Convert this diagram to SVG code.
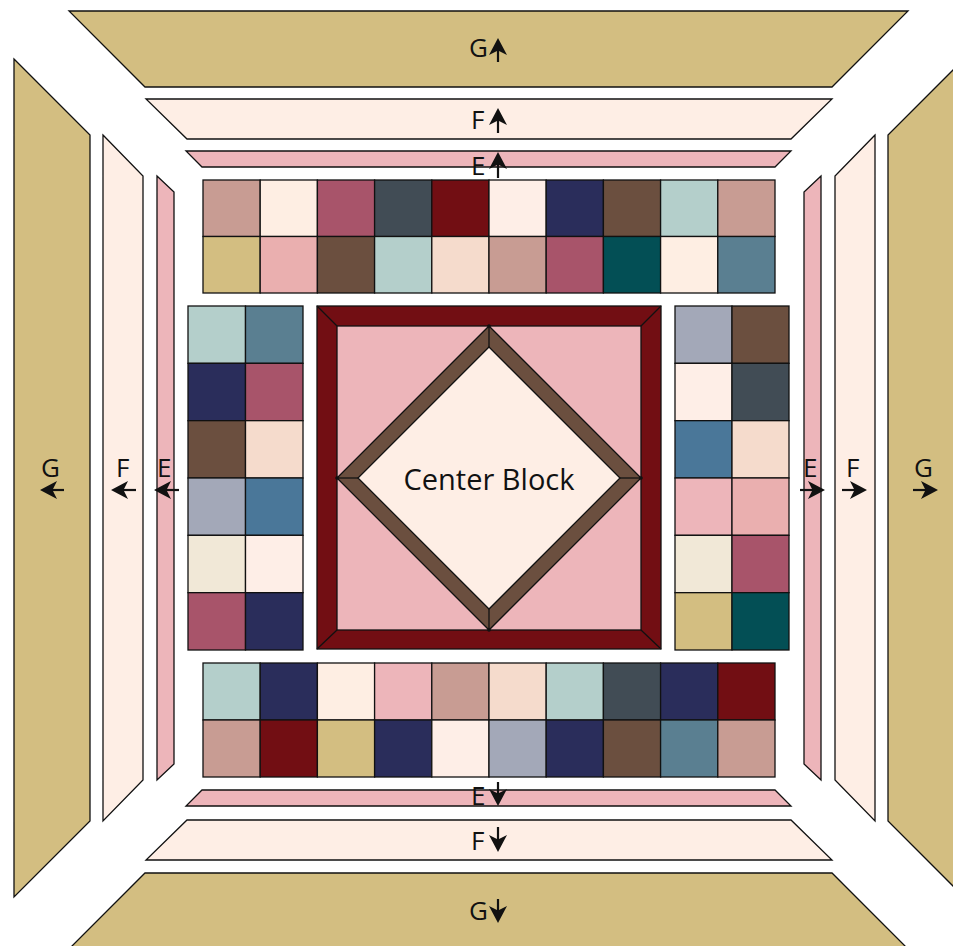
<svg xmlns="http://www.w3.org/2000/svg" width="953" height="946" viewBox="0 0 953 946">
<style>
.o{stroke:#111;stroke-width:1.3;stroke-linejoin:miter}
.g{fill:#D3BE81}.f{fill:#FEEEE5}.e{fill:#EDB5BA}
.lbl{font-family:"Open Sans","Noto Sans",sans-serif;font-size:26px;fill:#111}
.ln{stroke:#111;stroke-width:2.2;fill:none}
.hd{fill:#111;stroke:none}
.c1{fill:#C89C93}.c2{fill:#FEEEE3}.c3{fill:#A8546A}.c4{fill:#414C55}.c5{fill:#720E13}
.c6{fill:#FEEEE7}.c7{fill:#2A2D5B}.c8{fill:#6B4F3F}.c9{fill:#B4CFCB}.c10{fill:#D3BE81}
.c11{fill:#EAAFAF}.c12{fill:#F5DBCC}.c13{fill:#034F55}.c14{fill:#5A7F91}.c15{fill:#A3A8B8}
.c16{fill:#4A7799}.c17{fill:#F1E8D7}.c18{fill:#EDB5BA}
</style>
<defs>
<path id="hup" class="hd" d="M0,0 L-9,17 L0,12.5 L9,17 Z"/>
<path id="hdn" class="hd" d="M0,0 L-9,-17 L0,-12.5 L9,-17 Z"/>
<path id="hlf" class="hd" d="M0,0 L17,-9 L12.5,0 L17,9 Z"/>
<path id="hrt" class="hd" d="M0,0 L-17,-9 L-12.5,0 L-17,9 Z"/>
</defs>
<rect width="953" height="946" fill="#fff"/>

<g id="border-G-top"><polygon class="o g" points="69,11 908,11 832,87 145,87"/></g>
<g id="border-F-top"><polygon class="o f" points="146,99 832,99 791,139 187,139"/></g>
<g id="border-E-top"><polygon class="o e" points="186,151 791,151 775,167 202,167"/></g>

<g id="border-G-bottom"><polygon class="o g" points="145,873 832,873 908,949 69,949"/></g>
<g id="border-F-bottom"><polygon class="o f" points="187,820 791,820 832,860 146,860"/></g>
<g id="border-E-bottom"><polygon class="o e" points="202,790 775,790 791,806 186,806"/></g>

<g id="border-G-left"><polygon class="o g" points="14,59 90,135 90,821 14,897"/></g>
<g id="border-F-left"><polygon class="o f" points="103,135 143,176 143,780 103,821"/></g>
<g id="border-E-left"><polygon class="o e" points="157,176 174,192 174,764 157,780"/></g>

<g id="border-G-right"><polygon class="o g" points="964,59 888,135 888,821 964,897"/></g>
<g id="border-F-right"><polygon class="o f" points="875,135 835,176 835,780 875,821"/></g>
<g id="border-E-right"><polygon class="o e" points="821,176 804,192 804,764 821,780"/></g>

<g id="grid-top" class="o">
<rect class="c1" x="203" y="180" width="57.2" height="56.5"/>
<rect class="c2" x="260.2" y="180" width="57.2" height="56.5"/>
<rect class="c3" x="317.4" y="180" width="57.2" height="56.5"/>
<rect class="c4" x="374.6" y="180" width="57.2" height="56.5"/>
<rect class="c5" x="431.8" y="180" width="57.2" height="56.5"/>
<rect class="c6" x="489" y="180" width="57.2" height="56.5"/>
<rect class="c7" x="546.2" y="180" width="57.2" height="56.5"/>
<rect class="c8" x="603.4" y="180" width="57.2" height="56.5"/>
<rect class="c9" x="660.6" y="180" width="57.2" height="56.5"/>
<rect class="c1" x="717.8" y="180" width="57.2" height="56.5"/>
<rect class="c10" x="203" y="236.5" width="57.2" height="56.5"/>
<rect class="c11" x="260.2" y="236.5" width="57.2" height="56.5"/>
<rect class="c8" x="317.4" y="236.5" width="57.2" height="56.5"/>
<rect class="c9" x="374.6" y="236.5" width="57.2" height="56.5"/>
<rect class="c12" x="431.8" y="236.5" width="57.2" height="56.5"/>
<rect class="c1" x="489" y="236.5" width="57.2" height="56.5"/>
<rect class="c3" x="546.2" y="236.5" width="57.2" height="56.5"/>
<rect class="c13" x="603.4" y="236.5" width="57.2" height="56.5"/>
<rect class="c2" x="660.6" y="236.5" width="57.2" height="56.5"/>
<rect class="c14" x="717.8" y="236.5" width="57.2" height="56.5"/>
</g>

<g id="grid-bottom" class="o">
<rect class="c9" x="203" y="663" width="57.2" height="57"/>
<rect class="c7" x="260.2" y="663" width="57.2" height="57"/>
<rect class="c2" x="317.4" y="663" width="57.2" height="57"/>
<rect class="c18" x="374.6" y="663" width="57.2" height="57"/>
<rect class="c1" x="431.8" y="663" width="57.2" height="57"/>
<rect class="c12" x="489" y="663" width="57.2" height="57"/>
<rect class="c9" x="546.2" y="663" width="57.2" height="57"/>
<rect class="c4" x="603.4" y="663" width="57.2" height="57"/>
<rect class="c7" x="660.6" y="663" width="57.2" height="57"/>
<rect class="c5" x="717.8" y="663" width="57.2" height="57"/>
<rect class="c1" x="203" y="720" width="57.2" height="57"/>
<rect class="c5" x="260.2" y="720" width="57.2" height="57"/>
<rect class="c10" x="317.4" y="720" width="57.2" height="57"/>
<rect class="c7" x="374.6" y="720" width="57.2" height="57"/>
<rect class="c6" x="431.8" y="720" width="57.2" height="57"/>
<rect class="c15" x="489" y="720" width="57.2" height="57"/>
<rect class="c7" x="546.2" y="720" width="57.2" height="57"/>
<rect class="c8" x="603.4" y="720" width="57.2" height="57"/>
<rect class="c14" x="660.6" y="720" width="57.2" height="57"/>
<rect class="c1" x="717.8" y="720" width="57.2" height="57"/>
</g>

<g id="grid-left" class="o">
<rect class="c9" x="188" y="306" width="57.5" height="57.33"/>
<rect class="c14" x="245.5" y="306" width="57.5" height="57.33"/>
<rect class="c7" x="188" y="363.33" width="57.5" height="57.33"/>
<rect class="c3" x="245.5" y="363.33" width="57.5" height="57.33"/>
<rect class="c8" x="188" y="420.67" width="57.5" height="57.33"/>
<rect class="c12" x="245.5" y="420.67" width="57.5" height="57.33"/>
<rect class="c15" x="188" y="478" width="57.5" height="57.33"/>
<rect class="c16" x="245.5" y="478" width="57.5" height="57.33"/>
<rect class="c17" x="188" y="535.33" width="57.5" height="57.33"/>
<rect class="c6" x="245.5" y="535.33" width="57.5" height="57.33"/>
<rect class="c3" x="188" y="592.67" width="57.5" height="57.33"/>
<rect class="c7" x="245.5" y="592.67" width="57.5" height="57.33"/>
</g>

<g id="grid-right" class="o">
<rect class="c15" x="675" y="306" width="57" height="57.33"/>
<rect class="c8" x="732" y="306" width="57" height="57.33"/>
<rect class="c6" x="675" y="363.33" width="57" height="57.33"/>
<rect class="c4" x="732" y="363.33" width="57" height="57.33"/>
<rect class="c16" x="675" y="420.67" width="57" height="57.33"/>
<rect class="c12" x="732" y="420.67" width="57" height="57.33"/>
<rect class="c18" x="675" y="478" width="57" height="57.33"/>
<rect class="c11" x="732" y="478" width="57" height="57.33"/>
<rect class="c17" x="675" y="535.33" width="57" height="57.33"/>
<rect class="c3" x="732" y="535.33" width="57" height="57.33"/>
<rect class="c10" x="675" y="592.67" width="57" height="57.33"/>
<rect class="c13" x="732" y="592.67" width="57" height="57.33"/>
</g>

<g id="center-block">
<rect class="o" x="317" y="306" width="344" height="343" fill="#720E13"/>
<rect class="o" x="337" y="326" width="304" height="304" fill="#EDB5BA"/>
<g class="o" fill="none">
<line x1="317" y1="306" x2="337" y2="326"/>
<line x1="661" y1="306" x2="641" y2="326"/>
<line x1="317" y1="649" x2="337" y2="630"/>
<line x1="661" y1="649" x2="641" y2="630"/>
</g>
<polygon class="o" points="489,326 641,478 489,630 337,478" fill="#6B4F3F"/>
<polygon class="o" points="489,347 620,478 489,609 358,478" fill="#FEEEE5"/>
<g class="o" fill="none">
<line x1="489" y1="326" x2="489" y2="347"/>
<line x1="641" y1="478" x2="620" y2="478"/>
<line x1="489" y1="630" x2="489" y2="609"/>
<line x1="337" y1="478" x2="358" y2="478"/>
</g>
<g fill="#111">
<circle cx="489" cy="326" r="1.8"/><circle cx="641" cy="478" r="1.8"/>
<circle cx="489" cy="630" r="1.8"/><circle cx="337" cy="478" r="1.8"/>
</g>
<text x="489" y="490" text-anchor="middle" font-family="'Open Sans','Noto Sans',sans-serif" font-size="29" fill="#111">Center Block</text>
</g>

<g id="labels">
<text class="lbl" x="469" y="57">G</text>
<text class="lbl" x="471" y="129">F</text>
<text class="lbl" x="471" y="175">E</text>
<text class="lbl" x="471" y="805">E</text>
<text class="lbl" x="471" y="850">F</text>
<text class="lbl" x="469" y="920">G</text>
<text class="lbl" x="41" y="477">G</text>
<text class="lbl" x="116" y="477">F</text>
<text class="lbl" x="157" y="477">E</text>
<text class="lbl" x="803" y="477">E</text>
<text class="lbl" x="846" y="477">F</text>
<text class="lbl" x="914" y="477">G</text>
</g>

<g id="connectors">
<line class="ln" x1="498" y1="62" x2="498" y2="46"/><use href="#hup" x="498" y="38"/>
<line class="ln" x1="498" y1="133" x2="498" y2="116"/><use href="#hup" x="498" y="108"/>
<line class="ln" x1="498" y1="178" x2="498" y2="160"/><use href="#hup" x="498" y="152"/>
<line class="ln" x1="498" y1="782" x2="498" y2="798"/><use href="#hdn" x="498" y="806"/>
<line class="ln" x1="498" y1="827" x2="498" y2="844"/><use href="#hdn" x="498" y="852"/>
<line class="ln" x1="498" y1="899" x2="498" y2="915"/><use href="#hdn" x="498" y="923"/>
<line class="ln" x1="64" y1="490" x2="48" y2="490"/><use href="#hlf" x="40" y="490"/>
<line class="ln" x1="136" y1="490" x2="119" y2="490"/><use href="#hlf" x="111" y="490"/>
<line class="ln" x1="179" y1="490" x2="162" y2="490"/><use href="#hlf" x="154" y="490"/>
<line class="ln" x1="800" y1="490" x2="817" y2="490"/><use href="#hrt" x="825" y="490"/>
<line class="ln" x1="842" y1="490" x2="859" y2="490"/><use href="#hrt" x="867" y="490"/>
<line class="ln" x1="913" y1="490" x2="930" y2="490"/><use href="#hrt" x="938" y="490"/>
</g>
</svg>
